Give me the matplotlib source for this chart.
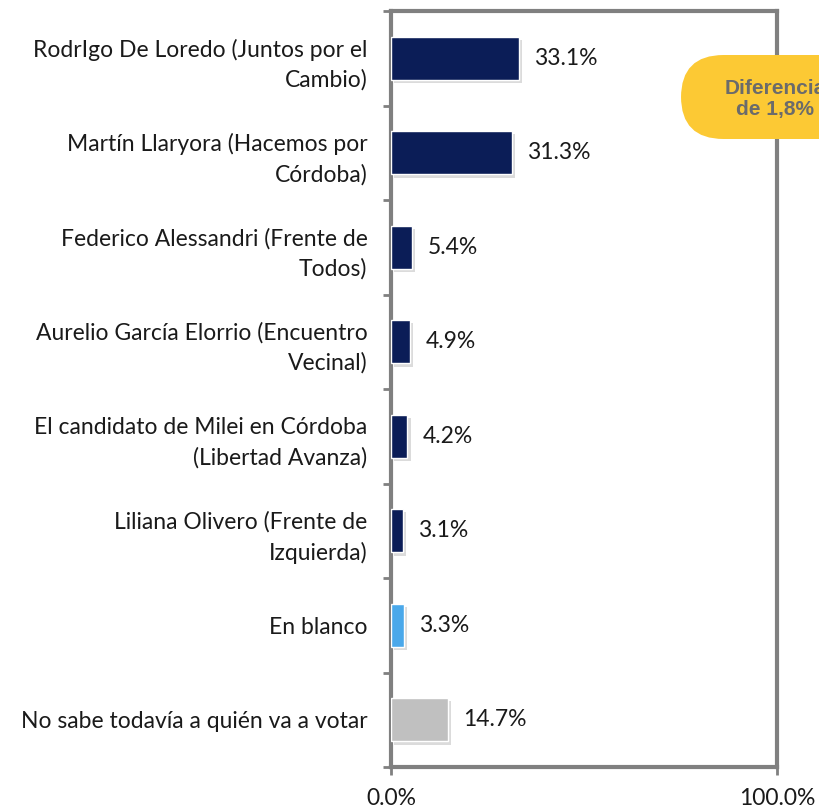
import matplotlib
matplotlib.use("Agg")
import matplotlib.pyplot as plt
import matplotlib.patheffects as pe
from matplotlib.patches import FancyBboxPatch

categories = [
    "RodrIgo De Loredo (Juntos por el\nCambio)",
    "Martín Llaryora (Hacemos por\nCórdoba)",
    "Federico Alessandri (Frente de\nTodos)",
    "Aurelio García Elorrio (Encuentro\nVecinal)",
    "El candidato de Milei en Córdoba\n(Libertad Avanza)",
    "Liliana Olivero (Frente de\nIzquierda)",
    "En blanco",
    "No sabe todavía a quién va a votar",
]
values = [33.1, 31.3, 5.4, 4.9, 4.2, 3.1, 3.3, 14.7]
value_labels = ["33.1%", "31.3%", "5.4%", "4.9%", "4.2%", "3.1%", "3.3%", "14.7%"]
x_ticks = [0, 100]
x_tick_labels = ["0.0%", "100.0%"]
badge_text = "Diferencia\nde 1,8%"

navy = "#0b1d57"
colors = [navy] * 6 + ["#4aa8ea", "#c0c0c0"]

plt.rcParams['font.family'] = ['Lato', 'DejaVu Sans']

W, H = 819, 809
fig = plt.figure(figsize=(W / 100, H / 100), dpi=100)
ax = fig.add_axes([391 / W, 1 - 767 / H, (777 - 391) / W, (767 - 11) / H])

n = len(categories)
ypos = list(range(n))
bars = ax.barh(ypos, values, height=0.46, color=colors, edgecolor="white",
               linewidth=1.0, zorder=3)
for b in bars:
    b.set_path_effects([pe.SimplePatchShadow(offset=(2.5, -2.5), shadow_rgbFace="#999999", alpha=0.35),
                        pe.Normal()])

for y, v, lab in zip(ypos, values, value_labels):
    ax.text(v + 4.0, y, lab, va="center", ha="left", fontsize=16.5, color="#1a1a1a")

ax.set_xlim(0, 100)
ax.set_ylim(n - 0.5, -0.5)
ax.set_xticks(x_ticks)
ax.set_xticklabels(x_tick_labels, fontsize=16.5, color="#1a1a1a")
ax.set_yticks([y - 0.5 for y in range(n + 1)], minor=False)
ax.set_yticklabels([])
ax.set_yticks(ypos, minor=True)
ax.set_yticklabels(categories, minor=True, fontsize=16.5, color="#1a1a1a", linespacing=1.5)
ax.tick_params(axis="y", which="minor", length=0, pad=17)
ax.tick_params(axis="y", which="major", length=6, width=2, color="#808080")
ax.tick_params(axis="x", length=6, width=2, color="#808080", pad=9)
for s in ax.spines.values():
    s.set_color("#808080")
    s.set_linewidth(3)

# badge
badge = FancyBboxPatch((681 / W, 1 - 139 / H), 200 / W, 84 / H,
                       boxstyle="round,pad=0,rounding_size=0.052",
                       transform=fig.transFigure, facecolor="#fcc934",
                       edgecolor="none", zorder=10, clip_on=False,
                       mutation_aspect=W / H)
fig.patches.append(badge)
fig.text(775 / W, 1 - 99 / H, badge_text, ha="center", va="center",
         fontsize=15, fontweight="bold", color="#6b6b6b", zorder=11,
         linespacing=1.2, family=["Liberation Sans", "DejaVu Sans"])

fig.savefig("out.png", dpi=100)
